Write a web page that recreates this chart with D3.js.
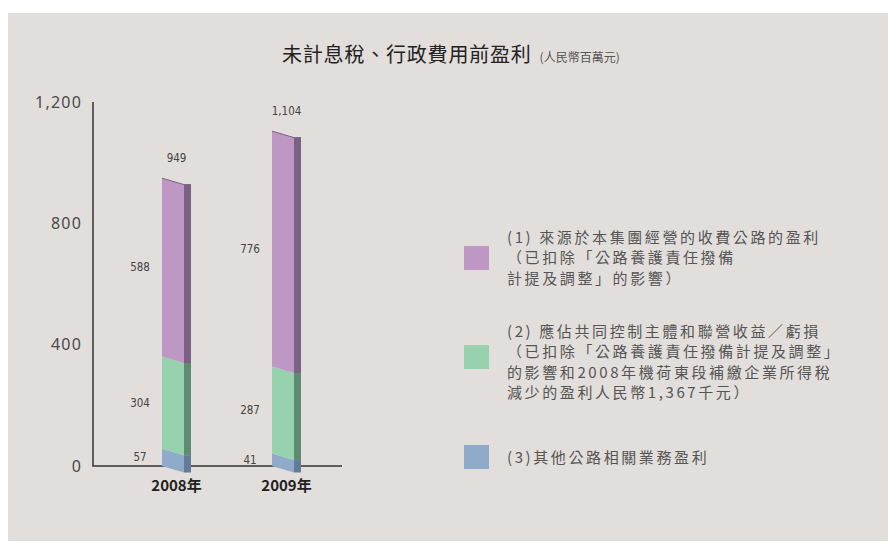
<!DOCTYPE html>
<html>
<head>
<meta charset="utf-8">
<script src="https://cdn.jsdelivr.net/npm/d3@7"></script>
<style>
  html, body { margin: 0; padding: 0; background: #ffffff; }
  svg { display: block; }
</style>
</head>
<body>
<svg id="chart" width="889" height="542"></svg>
<script>
// Profit before interest, tax and admin expenses (RMB million)
const years = ["2008年", "2009年"];
const tollRoads = [588, 776];      // (1) toll roads of the group
const jointVentures = [304, 287];  // (2) jointly controlled entities & associates
const otherRoads = [57, 41];       // (3) other road-related businesses
const totals = [949, 1104];
const yTicks = [0, 400, 800, 1200];

const titleMain = "未計息稅、行政費用前盈利";
const titleUnit = "(人民幣百萬元)";
const legendItems = [
  { key: "toll", lines: ["(1) 來源於本集團經營的收費公路的盈利", "（已扣除「公路養護責任撥備", "計提及調整」的影響）"] },
  { key: "jv", lines: ["(2) 應佔共同控制主體和聯營收益／虧損", "（已扣除「公路養護責任撥備計提及調整」", "的影響和2008年機荷東段補繳企業所得稅", "減少的盈利人民幣1,367千元）"] },
  { key: "other", lines: ["(3)其他公路相關業務盈利"] }
];

const colors = {
  toll:  { front: "#bf97c5", side: "#7b6183" },
  jv:    { front: "#98d1ad", side: "#5f8b72" },
  other: { front: "#8fabc9", side: "#607c98" }
};

const rows = years.map((yr, i) => ({
  year: yr, other: otherRoads[i], jv: jointVentures[i], toll: tollRoads[i], total: totals[i]
}));
const keys = ["other", "jv", "toll"];
const series = d3.stack().keys(keys)(rows);

const svg = d3.select("#chart");
const cjk = "'Noto Sans CJK TC', 'Noto Sans CJK SC', sans-serif";
const narrow = "'Liberation Sans Narrow', 'DejaVu Sans Condensed', sans-serif";

// panel background
svg.append("rect").attr("x", 8).attr("y", 13).attr("width", 880).attr("height", 528)
  .attr("fill", "#e2dedb");

// title
const title = svg.append("text").attr("x", 282).attr("y", 62)
  .attr("font-family", cjk).attr("fill", "#222");
title.append("tspan").attr("font-size", 20).attr("letter-spacing", 0.8).text(titleMain);
title.append("tspan").attr("font-size", 12).attr("fill", "#555").attr("dx", 8).text(titleUnit);

const y = d3.scaleLinear().domain([0, 1200]).range([466, 102]);
const x = d3.scaleBand().domain(years).range([118, 338]).paddingInner(0.8).paddingOuter(0.4);
const bw = x.bandwidth();
const side = 7;
const shear = 6.5;

// axes
const yAxis = svg.append("g").attr("transform", "translate(93,0)")
  .call(d3.axisLeft(y).tickValues(yTicks).tickSize(0).tickPadding(11).tickFormat(d3.format(",")));
yAxis.select(".domain").remove();
yAxis.selectAll("text").attr("font-family", "'Noto Sans', sans-serif").attr("font-size", 16)
  .attr("letter-spacing", 1.2).attr("fill", "#4a4a4a");

svg.append("line").attr("x1", 93).attr("x2", 93).attr("y1", 102).attr("y2", y(0))
  .attr("stroke", "#333").attr("stroke-width", 1.5);
svg.append("line").attr("x1", 92.25).attr("x2", 342).attr("y1", y(0)).attr("y2", y(0))
  .attr("stroke", "#333").attr("stroke-width", 1.5);

// bars: sheared front face plus a darker side face
series.forEach(s => {
  const c = colors[s.key];
  const g = svg.append("g");
  g.selectAll("path.front").data(s).join("path").attr("class", "front")
    .attr("fill", c.front)
    .attr("d", d => {
      const x0 = x(d.data.year), x1 = x0 + bw;
      const yt = y(d[1]), yb = y(d[0]);
      return `M${x0},${yt}L${x1},${yt + shear}L${x1},${yb + shear}L${x0},${yb}Z`;
    });
  g.selectAll("rect.side").data(s).join("rect").attr("class", "side")
    .attr("fill", c.side)
    .attr("x", d => x(d.data.year) + bw)
    .attr("y", d => y(d[1]) + shear)
    .attr("width", side)
    .attr("height", d => y(d[0]) - y(d[1]));
});

// dark edge along the top of each bar
svg.selectAll("path.topedge").data(rows).join("path")
  .attr("fill", "none").attr("stroke", colors.toll.side).attr("stroke-width", 1)
  .attr("d", d => {
    const x0 = x(d.year), x1 = x0 + bw;
    const yt = y(d.total);
    return `M${x0},${yt}L${x1},${yt + shear}L${x1 + side},${yt + shear}`;
  });

// segment value labels
series.forEach(s => {
  svg.selectAll(null).data(s).join("text")
    .attr("x", d => x(d.data.year) - 22)
    .attr("y", d => (y(d[0]) + y(d[1])) / 2 + 4)
    .attr("text-anchor", "middle")
    .attr("font-family", narrow).attr("font-size", 11.5).attr("fill", "#444")
    .text(d => d3.format(",")(d.data[s.key]));
});

// total labels
svg.selectAll(null).data(rows).join("text")
  .attr("x", d => x(d.year) + (bw + side) / 2)
  .attr("y", d => y(d.total) - 16)
  .attr("text-anchor", "middle")
  .attr("font-family", narrow).attr("font-size", 11.5).attr("fill", "#444")
  .text(d => d3.format(",")(d.total));

// category labels
svg.selectAll(null).data(years).join("text")
  .attr("x", d => x(d) + (bw + side) / 2)
  .attr("y", 491)
  .attr("text-anchor", "middle")
  .attr("font-family", cjk).attr("font-size", 15).attr("font-weight", "bold").attr("fill", "#222")
  .text(d => d);

// legend
const legendTop = [237, 331, 457];
const swatchY = [246, 345, 445];
legendItems.forEach((item, i) => {
  svg.append("rect").attr("x", 464).attr("y", swatchY[i]).attr("width", 25).attr("height", 24)
    .attr("fill", colors[item.key].front);
  const t = svg.append("text").attr("font-family", cjk).attr("font-size", 15)
    .attr("letter-spacing", 2.6).attr("fill", "#555");
  item.lines.forEach((ln, j) => {
    t.append("tspan").attr("x", 507).attr("y", legendTop[i] + 5.5 + j * 20.5).text(ln);
  });
});
</script>
</body>
</html>
